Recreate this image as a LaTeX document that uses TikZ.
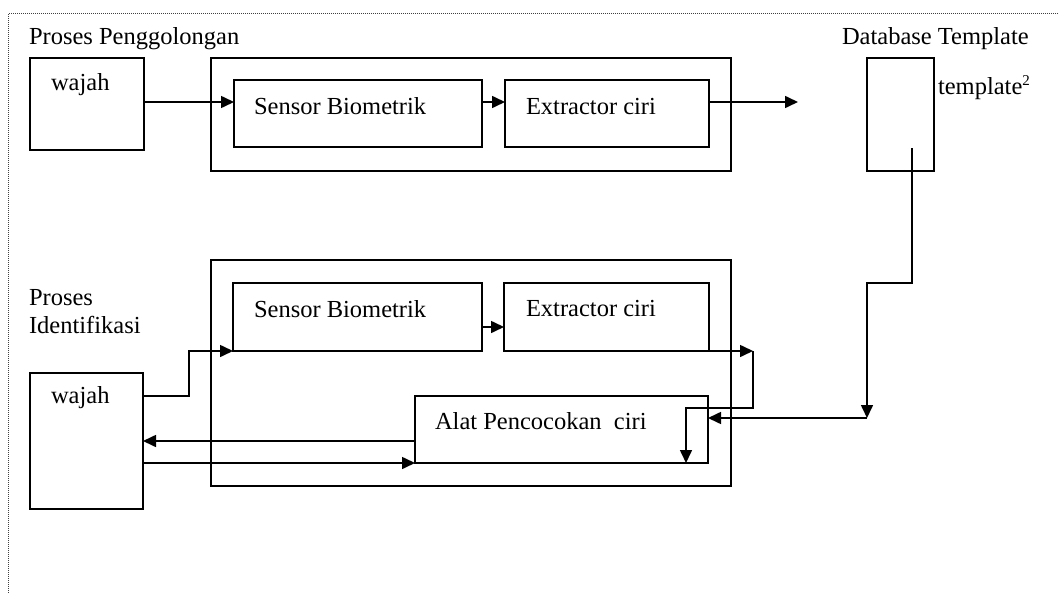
\documentclass[tikz,border=0pt]{standalone}
\usepackage{fontspec}
\setmainfont{Liberation Serif}
\usetikzlibrary{arrows.meta,calc}
\begin{document}
\begin{tikzpicture}[x=1pt,y=-1pt,
  box/.style={draw,line width=1.6pt,inner sep=0pt,outer sep=0pt,anchor=north west},
  lbl/.style={anchor=base west,inner sep=0pt,outer sep=0pt,font=\fontsize{24.5}{28}\selectfont},
  arr/.style={line width=1.6pt,-{Triangle[length=13pt,width=12pt]}},
  frame/.style={line width=1pt,black!75,dash pattern=on 1pt off 1pt}]
\useasboundingbox (0,0) rectangle (1058,594);
\draw[frame] (1058,14) -- (8,14) -- (8,594);

% top row
\node[box,minimum width=114pt,minimum height=92pt] (w1) at (30,58) {};
\node[box,minimum width=520pt,minimum height=113pt] (o1) at (211,58) {};
\node[box,minimum width=248pt,minimum height=67pt] (s1) at (234,80) {};
\node[box,minimum width=204pt,minimum height=67pt] (e1) at (505,80) {};
\node[box,minimum width=67pt,minimum height=113pt] (db) at (867,58) {};

\node[lbl] (t1) at (29,45) {Proses Penggolongan};
\node[lbl] (tw1) at (51,90) {wajah};
\node[lbl] (ts1) at (254,114) {Sensor Biometrik};
\node[lbl] (te1) at (526,114) {Extractor ciri};
\node[lbl] (tdb) at (842,45) {Database Template};
\node[lbl] (ttp) at (938,95) {template\textsuperscript{\fontsize{15}{15}\selectfont 2}};

% bottom row
\node[box,minimum width=520pt,minimum height=226pt] (o2) at (211,260) {};
\node[box,minimum width=249pt,minimum height=68pt] (s2) at (233,283) {};
\node[box,minimum width=205pt,minimum height=68pt] (e2) at (504,283) {};
\node[box,minimum width=293pt,minimum height=67pt] (al) at (415,396) {};
\node[box,minimum width=113pt,minimum height=136pt] (w2) at (30,373) {};

\node[lbl] (tp) at (29,305) {Proses};
\node[lbl] (ti) at (29,333) {Identifikasi};
\node[lbl] (tw2) at (51,403) {wajah};
\node[lbl] (ts2) at (254,317) {Sensor Biometrik};
\node[lbl] (te2) at (526,316) {Extractor ciri};
\node[lbl] (tal) at (435,429) {Alat Pencocokan\ \ ciri};

% coordinates
\coordinate (dbin) at (798,102);
\coordinate (dbout) at (912,148);
\coordinate (c1) at (867,418);
\coordinate (c2) at (753,351);

% top connectors
\draw[arr] (w1.east |- 0,102) -- (s1.west |- 0,102);
\draw[arr] (s1.east |- 0,102) -- (e1.west |- 0,102);
\draw[arr] (e1.east |- 0,102) -- (dbin);

% database to matcher
\draw[arr] (dbout) -- (912,283) -- (867,283) -- (c1);
\draw[arr] (c1) -- (al.east |- c1);

% bottom connectors
\draw[arr] (w2.east |- 0,396) -- (189,396) -- (189,351) -- (s2.south west);
\draw[arr] (s2.east |- 0,327) -- (e2.west |- 0,327);
\draw[arr] (e2.south east) -- (e2.south east -| c2);
\draw[arr] (c2) -- (753,408) -- (686,408) -- (al.south -| 686,0);
\draw[arr] (al.west |- 0,441) -- (w2.east |- 0,441);
\draw[arr] (w2.east |- al.south west) -- (al.south west);
\end{tikzpicture}
\end{document}
